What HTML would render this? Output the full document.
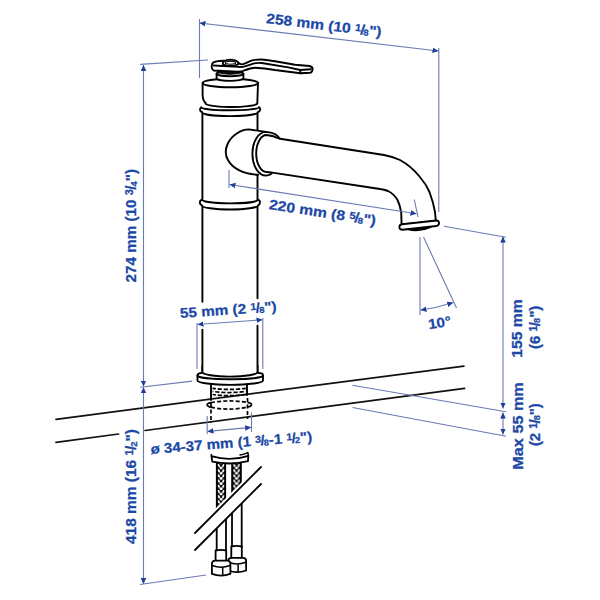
<!DOCTYPE html>
<html><head><meta charset="utf-8"><style>
html,body{margin:0;padding:0;background:#fff;width:600px;height:600px;overflow:hidden}
svg{display:block}
text{font-family:"Liberation Sans",sans-serif;font-weight:bold;font-size:14px;fill:#1c48a6;stroke:#1c48a6;stroke-width:0.25px}
</style></head><body>
<svg width="600" height="600" viewBox="0 0 600 600">
<defs>
<marker id="ar" viewBox="0 0 6 6" refX="6" refY="3" markerWidth="6" markerHeight="6" markerUnits="userSpaceOnUse" orient="auto-start-reverse"><path d="M0,0.2 L6,3 L0,5.8 Z" fill="#1d3f9a"/></marker>
</defs>

<!-- ============ FAUCET (black) ============ -->
<g stroke="#111" stroke-width="1.7" fill="#fff" stroke-linecap="round" stroke-linejoin="round">
  <!-- countertop lines -->
  <line x1="56" y1="419.3" x2="463.9" y2="366.1"/>
  <line x1="56" y1="442.3" x2="118.5" y2="434"/>
  <line x1="145" y1="430.5" x2="464.6" y2="388.3"/>
</g>

<g stroke="#000" stroke-width="1.9" fill="#fff" stroke-linecap="round" stroke-linejoin="round">
  <!-- body -->
  <path d="M202,110 L202,373 L258,373 L258,110 Z" stroke="none"/>
  <line x1="202.4" y1="110" x2="202.4" y2="301.7"/><line x1="202.4" y1="329.7" x2="202.4" y2="374"/>
  <line x1="257.5" y1="110" x2="257.5" y2="298.3"/><line x1="257.5" y1="325.7" x2="257.5" y2="374"/>
  <!-- middle ring -->
  <path d="M202,199.6 A28,3.8 0 0 0 258,199.6 Q260.5,200.5 259.8,202.5 Q260,204.5 258,205.4 A28,4.1 0 0 1 202,205.4 Q199.8,204.5 199.9,202.5 Q199.6,200.5 202,199.6 Z"/>
  <!-- top ring -->
  <path d="M201.3,107.2 A28.8,3.1 0 0 0 258.9,107.2 Q260.4,108 260.2,109.6 Q260,111.3 257.8,112.2 A27.8,3.9 0 0 1 202.2,112.2 Q200,111.4 200,109.6 Q200,108.2 201.3,107.2 Z"/>
  <!-- head -->
  <path d="M202.6,83 L202.6,95 Q202.8,100.5 205.5,102.8 A26,3.8 0 0 0 257.3,103.6 L258,83 A27.7,4.2 0 0 0 202.6,83 Z"/>
  <path d="M202.6,83 A27.7,4.2 0 0 0 258,83" fill="none"/>
  <!-- collar under lever -->
  <path d="M216.6,73.8 L216.6,78.3 A13.4,2.6 0 0 0 243.4,78.3 L243.4,73.8 A13.4,2.6 0 0 0 216.6,73.8 Z"/>
  <path d="M216.6,73.8 A13.4,2.4 0 0 0 243.4,73.8" fill="none"/>
  <path d="M218,72.6 Q230,76 242,72.6 L242,71.6 Q230,74 218,71.6 Z" fill="#111" stroke-width="1"/>
  </g>
<g stroke="#000" stroke-width="1.9" fill="#fff" stroke-linecap="round" stroke-linejoin="round">
  <!-- boss -->
  <path d="M266,131.9 L249,129.4 C241,129.4 231.5,135.5 227.8,143.5 C225,149.5 225.2,155.5 228.2,160.5 C232.5,167.5 242,173.8 258,174.8 L262,175 L262,132 Z" stroke="none"/>
  <path d="M266,131.9 L249,129.4 C241,129.4 231.5,135.5 227.8,143.5 C225,149.5 225.2,155.5 228.2,160.5 C232.5,167.5 242,173.8 258,174.8" fill="none"/>
  <!-- spout collar -->
  <path d="M280,138.8 Q276.5,132.8 266,131.9 A13.6,21.85 0 0 0 266,175.6 Q270.5,175.3 272.3,172.8 Z"/>
  <!-- spout pipe with bend -->
  <path d="M266.6,135 Q273,135.6 280,138.8 L384,155 Q392.5,156.5 400,160 Q411,166 419.5,176.5 Q426,184 429.5,192 Q433.5,203 435,212 L435.8,221 L401.6,224.6 L401.2,212.5 Q400,205 397.5,200 Q394,194 388,191 Q384,189.4 380,189 L272.3,172.6 Q269,172.2 266.6,172 A10.4,18.5 0 0 1 266.6,135 Z"/>
  <!-- aerator -->
  <path d="M402,224.2 L436.3,220.5 Q439.2,220.6 439,223.2 Q438.8,225.6 436.3,226 L402.6,229.7 Q399.3,229.8 399.4,227 Q399.5,224.4 402,224.2 Z"/>
  <path d="M407.5,229.4 Q419,232.6 431,227 Q419,230.2 407.5,229.4 Z" fill="#000" stroke-width="1.5"/>
</g>
<g stroke="#000" stroke-width="1.9" fill="#fff" stroke-linecap="round" stroke-linejoin="round">
  <!-- lever plate + arm -->
  <path d="M213.2,62.6 Q215.5,61.2 223,60.8 L238,62.4 Q240,64.6 242.5,64.4 Q246,63.2 249,61.6 Q252,60.2 255,59.9 Q259,59.4 261.7,59.5 Q268,60 275,61.3 L295,64.7 L309.7,66 Q313,67 312.6,69.5 Q312.3,72.3 310,72.8 L300.3,73.3 L275,70 Q264,68.2 255,67.7 Q250,68.3 245.7,70 Q241.5,71.8 238,71.8 L213.6,70.5 Q211.4,69 211.7,66 Q212,63.6 213.2,62.6 Z"/>
  <path d="M213.8,65.5 L238,66.9 Q241.5,67.1 244,66.6 Q249,65.2 254,63.4 Q258,62.7 261.7,63 L288.3,67.4 L300.3,70 L310.8,69.2" fill="none"/>
  <line x1="300.3" y1="70" x2="300.3" y2="73.2"/>
  <path d="M244,70.6 Q249,67.5 255,67.5" fill="none" stroke-width="1.2"/>
  <!-- nut -->
  <path d="M222.8,63.2 L222.8,64.3 Q230.5,67.6 238.2,64.3 L238.2,63.2 Q238,60 230.5,59.6 Q223,60 222.8,63.2 Z"/>
  <path d="M225.5,62 Q230.5,60.2 235.5,62 L235.5,63.5 Q230.5,65 225.5,63.5 Z" fill="none" stroke-width="1.2"/>
</g>

<defs>
<pattern id="braid1" width="10" height="5.2" patternUnits="userSpaceOnUse" x="216" y="464">
  <rect width="10" height="5.2" fill="#111"/>
  <ellipse cx="2.7" cy="1.4" rx="1.75" ry="1.0" fill="#fff" transform="rotate(55 2.7 1.4)"/>
  <ellipse cx="5.1" cy="4.0" rx="1.6" ry="1.35" fill="#fff"/>
  <ellipse cx="7.5" cy="1.4" rx="1.75" ry="1.0" fill="#fff" transform="rotate(-55 7.5 1.4)"/>
</pattern>
<pattern id="braid2" width="10" height="5.2" patternUnits="userSpaceOnUse" x="231.5" y="464">
  <rect width="10" height="5.2" fill="#111"/>
  <ellipse cx="2.7" cy="1.4" rx="1.75" ry="1.0" fill="#fff" transform="rotate(55 2.7 1.4)"/>
  <ellipse cx="5.1" cy="4.0" rx="1.6" ry="1.35" fill="#fff"/>
  <ellipse cx="7.5" cy="1.4" rx="1.75" ry="1.0" fill="#fff" transform="rotate(-55 7.5 1.4)"/>
</pattern>

</defs>
<g stroke="#000" stroke-width="1.9" fill="#fff" stroke-linecap="round" stroke-linejoin="round">
  <!-- thread stem -->
    <line x1="211" y1="384" x2="211" y2="400"/>
  <line x1="247" y1="384" x2="247" y2="395"/>
  <g fill="none" stroke-dasharray="4.3 1.8" stroke-width="1.7" stroke-linecap="butt">
    <path d="M212.6,388.3 Q229,390.6 245.8,388.3" stroke-dashoffset="1"/>
    <path d="M212.6,391.4 Q229,393.7 245.8,391.4" stroke-dashoffset="3.5"/>
    <path d="M212.6,394.5 Q229,396.8 245.8,394.5" stroke-dashoffset="1"/>
  </g>
  <!-- flange -->
  <path d="M198.6,373.6 Q197.3,374.5 197.5,376 L197.5,380.5 A32.5,4.3 0 0 0 263,380.5 L263,376 Q263.2,374.5 262,373.6 Q245,369 230.3,369 Q215,369 198.6,373.6 Z"/>
  <path d="M197.5,375.8 A32.8,3.6 0 0 0 263,375.8" fill="none"/>
  <!-- body bottom curve -->
  <path d="M202.4,366 L202.4,372 A27.55,4.6 0 0 0 257.5,372 L257.5,366 Z" stroke="none"/>
  <path d="M202.4,366 L202.4,372 A27.55,4.6 0 0 0 257.5,372 L257.5,366" fill="none"/>
</g>
<!-- under counter: dashed stem + hole -->
<g stroke="#000" stroke-width="1.7" fill="none">
  <path d="M211,403 L211,423" stroke-dasharray="4 2.5"/>
  <path d="M247.5,398 L247.5,419" stroke-dasharray="4 2.5"/>
  <path d="M211,402.6 Q229.2,399.4 247.5,402.4" stroke-dasharray="4 2.2"/>
  <path d="M211,407.2 Q229.2,411.2 247.5,407" stroke-dasharray="4 2.2"/>
  <path d="M211,402.6 Q206.6,403.4 207.2,405 Q207.8,406.8 211,407.2"/>
  <path d="M247.5,402.4 Q252,403.4 251.5,405 Q250.9,406.6 247.5,407"/>
</g>
<!-- clamp + hoses -->
<g stroke="#000" stroke-width="1.8" fill="#fff" stroke-linecap="round" stroke-linejoin="round">
  <path d="M216,463 L216,512 L226,502 L226,463 Z" fill="url(#braid1)" stroke="none"/>
  <path d="M231.5,463 L231.5,496.5 L241.5,486.5 L241.5,463 Z" fill="url(#braid2)" stroke="none"/>
  <line x1="216.8" y1="463" x2="216.8" y2="511.2"/>
  <line x1="225.2" y1="463" x2="225.2" y2="502.8"/>
  <line x1="232.3" y1="463" x2="232.3" y2="495.7"/>
  <line x1="240.7" y1="463" x2="240.7" y2="487.3"/>
  <!-- lower plain tubes -->
  <line x1="216.7" y1="528.3" x2="216.7" y2="551"/>
  <line x1="226" y1="519" x2="226" y2="551"/>
  <line x1="232" y1="513" x2="232" y2="547"/>
  <line x1="241.7" y1="503.3" x2="241.7" y2="547"/>
  <!-- clamp -->
  <path d="M211.5,456.2 Q230,461.8 248.3,455.8 L248,461.2 Q230,465.5 212.3,461.7 Z"/>
  <path d="M211.5,456.2 L211.3,454.6 M248.3,455.8 Q248.3,454 247.8,452.6 M240,455 Q244.5,454.3 247.8,452.6" fill="none" stroke-width="1.5"/>
  <!-- ferrules -->
  <path d="M215.6,550.5 L215.6,562 L226.2,562 L226.2,550.5 Q221,549.3 215.6,550.5 Z"/>
  <path d="M231.3,546.5 L231.3,558.5 L241.8,558.5 L241.8,546.5 Q236.5,545.3 231.3,546.5 Z"/>
  <!-- nuts -->
  <path d="M228.2,560.5 Q228.5,558 231.5,557.8 L243,557.8 Q246.1,558 246.1,560.5 L246.1,570.5 Q237,573.8 228.2,570.5 Z"/>
  <path d="M228.6,562.3 Q237,565.6 245.7,562.3 M238.1,564.2 L238.1,571.8" fill="none" stroke-width="1.5"/>
  <path d="M211.9,563.5 Q212.2,560.8 215.2,560.6 L227,560.6 Q230.4,560.8 230.4,563.5 L230.4,573.8 Q221,577.3 211.9,573.8 Z"/>
  <path d="M212.3,565.5 Q221,569 230,565.5 M222.7,567.2 L222.7,575.6" fill="none" stroke-width="1.5"/>
  <!-- break lines -->
  <path d="M208,516 L226,498 L231.5,492.5 L241.5,482.5 L261,463 L261,470 L253,478 L245,486 L238,493 L216,515 L195,536 L195,533 Z" stroke="none"/>
  <path d="M195,550 L261,484 L261,467 L195,533 Z" stroke="none"/>
  <line x1="195" y1="533" x2="261" y2="467"/>
  <line x1="195" y1="550" x2="261" y2="484"/>
</g>
<!-- ============ BLUE DIMENSION LINES ============ -->
<g stroke="#6a7ab4" stroke-width="1.1" fill="none">
  <!-- 258 mm -->
  <line x1="199.5" y1="19" x2="199.5" y2="78"/>
  <line x1="438.8" y1="48" x2="438.8" y2="212"/>
  <line x1="199.5" y1="23" x2="438.5" y2="51" marker-start="url(#ar)" marker-end="url(#ar)"/>
  <!-- 274 mm -->
  <line x1="140.3" y1="64.4" x2="208" y2="60"/>
  <line x1="143.5" y1="65" x2="143.5" y2="386.5" marker-start="url(#ar)" marker-end="url(#ar)"/>
  <line x1="143.5" y1="387.2" x2="143.5" y2="584" marker-start="url(#ar)" marker-end="url(#ar)"/>
  <line x1="140.2" y1="387.3" x2="192.2" y2="381.1"/>
  <line x1="140" y1="584.5" x2="206" y2="575"/>
  <!-- 220 mm -->
  <line x1="229" y1="170" x2="229" y2="188"/>
  <line x1="414.3" y1="199.5" x2="418" y2="217"/>
  <line x1="229.5" y1="184.5" x2="416.5" y2="213.8" marker-start="url(#ar)" marker-end="url(#ar)"/>
  <!-- 55 mm -->
  <line x1="197" y1="323" x2="197" y2="369"/>
  <line x1="262.8" y1="318" x2="262.8" y2="369"/>
  <line x1="197.5" y1="324.5" x2="262.5" y2="319.8" marker-start="url(#ar)" marker-end="url(#ar)"/>
  <!-- ø 34-37 -->
  <line x1="207.2" y1="416" x2="207.2" y2="434"/>
  <line x1="251.5" y1="412.5" x2="251.5" y2="432"/>
  <line x1="207.5" y1="431.4" x2="251.2" y2="427.4" marker-start="url(#ar)" marker-end="url(#ar)"/>
  <!-- 10 deg -->
  <line x1="420" y1="237" x2="420" y2="315"/>
  <line x1="423.5" y1="237" x2="456.5" y2="308"/>
  <path d="M420.5,310 Q437,308 453.2,302.5" marker-start="url(#ar)" marker-end="url(#ar)"/>
  <!-- 155 / 55 -->
  <line x1="444" y1="226.2" x2="506" y2="237.2"/>
  <line x1="503" y1="236.5" x2="503" y2="408.5" marker-start="url(#ar)" marker-end="url(#ar)"/>
  <line x1="503" y1="412.5" x2="503" y2="434.5" marker-start="url(#ar)" marker-end="url(#ar)"/>
  <line x1="352.5" y1="385.2" x2="506" y2="411.8"/>
  <line x1="352.5" y1="407.5" x2="506" y2="436.2"/>
</g>

<!-- ============ TEXT ============ -->
<text transform="translate(265.8,23) rotate(6.8)" textLength="116" lengthAdjust="spacingAndGlyphs">258 mm (10 <tspan font-size="10" dy="-2.9">1</tspan><tspan dy="2.9" dx="-0.6">/</tspan><tspan font-size="8.6" dx="-0.9" dy="0.6">8</tspan><tspan dy="-0.6">")</tspan></text>
<text transform="translate(136,282.5) rotate(-90)" textLength="113.5" lengthAdjust="spacingAndGlyphs">274 mm (10 <tspan font-size="10" dy="-2.9">3</tspan><tspan dy="2.9" dx="-0.6">/</tspan><tspan font-size="8.6" dx="-0.9" dy="0.6">4</tspan><tspan dy="-0.6">")</tspan></text>
<text transform="translate(268.5,209) rotate(8.7)" textLength="108" lengthAdjust="spacingAndGlyphs">220 mm (8 <tspan font-size="10" dy="-2.9">5</tspan><tspan dy="2.9" dx="-0.6">/</tspan><tspan font-size="8.6" dx="-0.9" dy="0.6">8</tspan><tspan dy="-0.6">")</tspan></text>
<text transform="translate(180.2,318) rotate(-4)" textLength="97" lengthAdjust="spacingAndGlyphs">55 mm (2 <tspan font-size="10" dy="-2.9">1</tspan><tspan dy="2.9" dx="-0.6">/</tspan><tspan font-size="8.6" dx="-0.9" dy="0.6">8</tspan><tspan dy="-0.6">")</tspan></text>
<text transform="translate(151,454) rotate(-4.5)" textLength="162" lengthAdjust="spacingAndGlyphs">ø 34-37 mm (1 <tspan font-size="10" dy="-2.9">3</tspan><tspan dy="2.9" dx="-0.6">/</tspan><tspan font-size="8.6" dx="-0.9" dy="0.6">8</tspan><tspan dy="-0.6">-1 <tspan font-size="10" dy="-2.9">1</tspan><tspan dy="2.9" dx="-0.6">/</tspan><tspan font-size="8.6" dx="-0.9" dy="0.6">2</tspan><tspan dy="-0.6">")</tspan></tspan></text>
<text transform="translate(136,544) rotate(-90)" textLength="115" lengthAdjust="spacingAndGlyphs">418 mm (16 <tspan font-size="10" dy="-2.9">1</tspan><tspan dy="2.9" dx="-0.6">/</tspan><tspan font-size="8.6" dx="-0.9" dy="0.6">2</tspan><tspan dy="-0.6">")</tspan></text>
<text transform="translate(429,329.2) rotate(-9)" textLength="23" lengthAdjust="spacingAndGlyphs">10°</text>
<text transform="translate(522.3,357.8) rotate(-90)" textLength="58.5" lengthAdjust="spacingAndGlyphs">155 mm</text>
<text transform="translate(539.5,349) rotate(-90)" textLength="43.3" lengthAdjust="spacingAndGlyphs">(6 <tspan font-size="10" dy="-2.9">1</tspan><tspan dy="2.9" dx="-0.6">/</tspan><tspan font-size="8.6" dx="-0.9" dy="0.6">8</tspan><tspan dy="-0.6">")</tspan></text>
<text transform="translate(522.5,469.7) rotate(-90)" textLength="87.5" lengthAdjust="spacingAndGlyphs">Max 55 mm</text>
<text transform="translate(539.5,446.1) rotate(-90)" textLength="42.8" lengthAdjust="spacingAndGlyphs">(2 <tspan font-size="10" dy="-2.9">1</tspan><tspan dy="2.9" dx="-0.6">/</tspan><tspan font-size="8.6" dx="-0.9" dy="0.6">8</tspan><tspan dy="-0.6">")</tspan></text>

</svg>
</body></html>
